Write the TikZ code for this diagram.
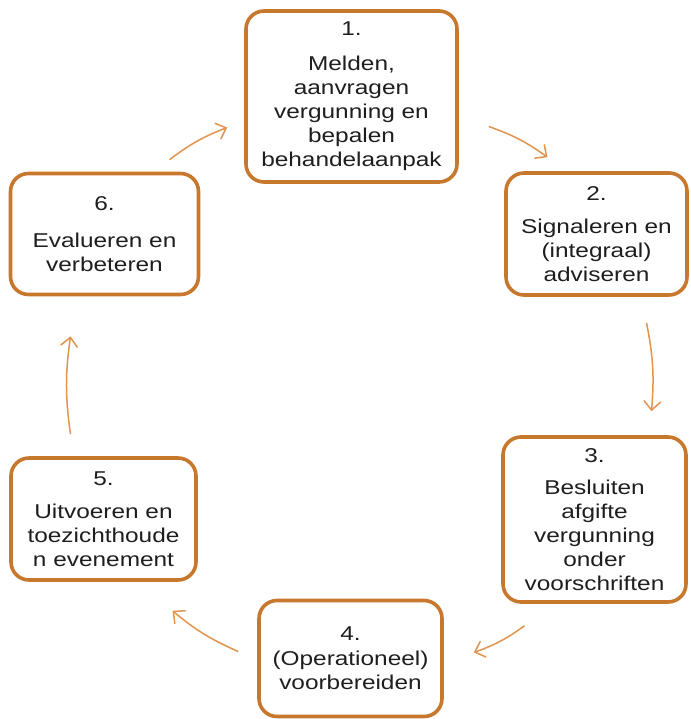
\documentclass[tikz,border=0pt]{standalone}
\usepackage{fontspec}
\setmainfont[FakeStretch=1.22]{Liberation Sans}
\usetikzlibrary{arrows.meta}
\definecolor{randoranje}{HTML}{C8782C}
\definecolor{pijloranje}{HTML}{E0944E}
\definecolor{tekstgrijs}{HTML}{1E1E1E}

\begin{document}
\begin{tikzpicture}[x=1pt, y=-1pt,
    stap/.style={draw=randoranje, line width=3.6pt, rounded corners=18pt, align=center,
        inner sep=0pt, text=tekstgrijs, font=\fontsize{20}{24}\selectfont},
    pijl/.style={draw=pijloranje, line width=1.5pt, bend left=8,
        -{Straight Barb[length=9pt, width=17pt, line width=1.5pt]}}]
                \useasboundingbox (0,0) rectangle (690,719);
                \node [stap, minimum width=211pt, minimum height=171pt] (een) at (351.5,96.5)
                    {1.\\[11pt]Melden,\\aanvragen\\vergunning en\\bepalen\\behandelaanpak};
                \node [stap, minimum width=181pt, minimum height=122pt] (twee) at (596.5,234)
                    {2.\\[9pt]Signaleren en\\(integraal)\\adviseren};
                \node [stap, minimum width=183pt, minimum height=165pt] (drie) at (594.5,519.5)
                    {3.\\[8pt]Besluiten\\afgifte\\vergunning\\onder\\voorschriften};
                \node [stap, minimum width=183pt, minimum height=116pt] (vier) at (350.5,658.5)
                    {4.\\[1pt](Operationeel)\\voorbereiden};
                \node [stap, minimum width=185pt, minimum height=122pt] (vijf) at (103.5,519)
                    {5.\\[9pt]Uitvoeren en\\toezichthoude\\n evenement};
                \node [stap, minimum width=188pt, minimum height=121pt] (zes) at (104.5,234)
                    {6.\\[13pt]Evalueren en\\verbeteren};
                % pijlen rond de cyclus
                \draw [pijl] ([xshift=30pt,yshift=-30pt]een.east) to ([xshift=-49pt,yshift=14pt]twee.north);
                \draw [pijl] ([xshift=50pt,yshift=-26pt]twee.south) to ([xshift=57pt,yshift=24pt]drie.north);
                \draw [pijl] ([xshift=-70pt,yshift=-22pt]drie.south) to ([xshift=30pt,yshift=6pt]vier.east);
                \draw [pijl] ([xshift=-19pt,yshift=7pt]vier.west) to ([xshift=69pt,yshift=-29pt]vijf.south);
                \draw [pijl] ([xshift=-33pt,yshift=22pt]vijf.north) to ([xshift=-34pt,yshift=-40pt]zes.south);
                \draw [pijl] ([xshift=65pt,yshift=12pt]zes.north) to ([xshift=-17pt,yshift=-31pt]een.west);
            \end{tikzpicture}
\end{document}
